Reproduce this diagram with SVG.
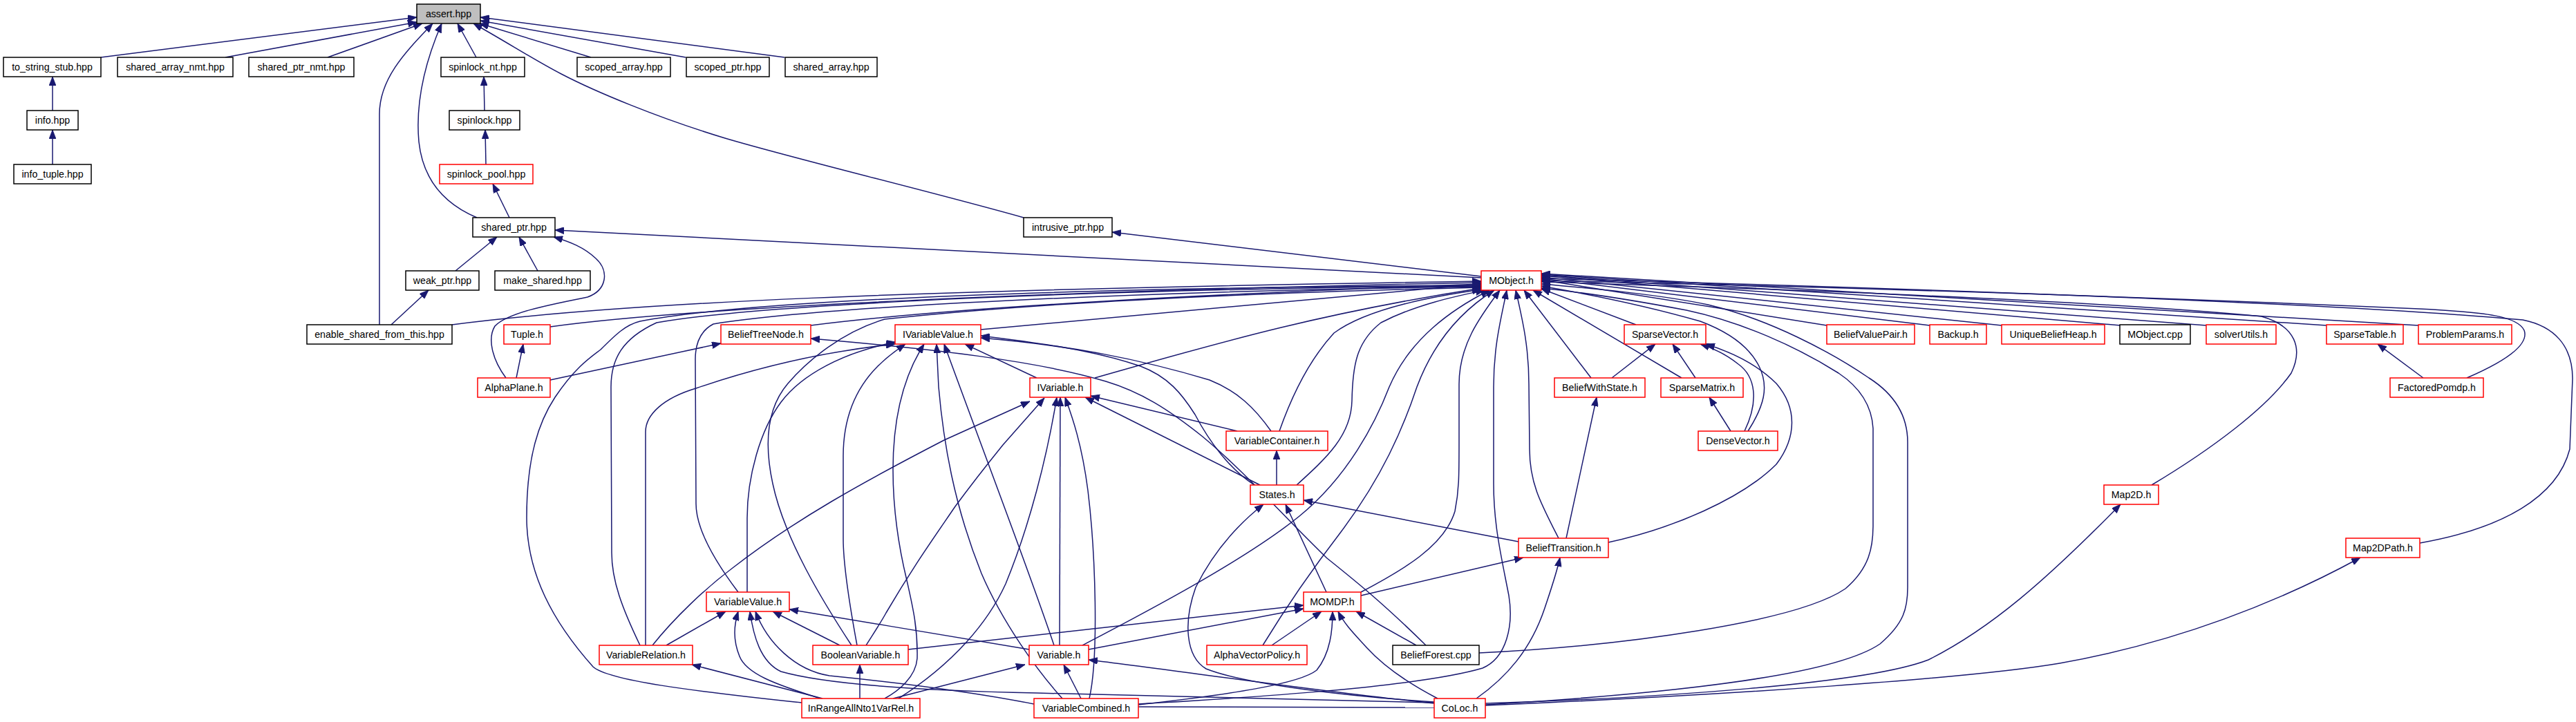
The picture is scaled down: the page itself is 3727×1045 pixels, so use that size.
<svg xmlns="http://www.w3.org/2000/svg" width="3727" height="1045" viewBox="0 0 3727 1045">
<style>
.bg{fill:#ffffff}
.e path{fill:none;stroke:#191970;stroke-width:1.5;marker-end:url(#ah)}
.e path.p{marker-end:none}
.n rect{fill:#ffffff;stroke:#000000;stroke-width:1.5}
.r rect{stroke:#ff0000}
.g rect{fill:#bfbfbf}
.n text{font-family:"Liberation Sans",Arial,sans-serif;font-size:14.2px;fill:#000000;text-anchor:middle}
</style>
<defs>
<marker id="ah" viewBox="0 0 13 10" refX="13" refY="5" markerWidth="13" markerHeight="10" markerUnits="userSpaceOnUse" orient="auto">
<path d="M0,0 L13,5 L0,10 z" fill="#191970" stroke="#191970" stroke-width="0.8"/>
</marker>
</defs>
<rect class="bg" x="0" y="0" width="3727" height="1045"/>
<g id="connectors" class="e">
<path d="M146,83 L603,25"/>
<path d="M326,83 L603,32"/>
<path d="M474,83 L611,34"/>
<path d="M549,470 L549,165 C549,112 590,72 626,34"/>
<path d="M690,315 C645,296 612,262 606,205 C601,150 614,92 639,34"/>
<path d="M689,83 L662,34"/>
<path d="M855,83 L694,34"/>
<path d="M992,83 L695,30"/>
<path d="M1135,83 L695,25"/>
<path d="M1481,315 C1350,278 1150,230 1049,200 C950,170 860,132 812,107 C775,88 735,62 685,34"/>
<path d="M76,160 L76,111"/>
<path d="M76,238 L76,188"/>
<path d="M701,160 L700,111"/>
<path d="M703,238 L702,188"/>
<path d="M737,315 L713,266"/>
<path d="M659,392 L719,343"/>
<path d="M778,392 L751,343"/>
<path d="M566,470 L620,420"/>
<path d="M732,547 C712,520 705,490 716,472 C735,452 800,440 850,430 C878,420 882,392 862,374 C845,358 825,350 801,343"/>
<path d="M2143,402 L803,333"/>
<path d="M2143,400 L1609,336"/>
<path d="M654,470 C900,438 1300,420 2143,407"/>
<path d="M796,473 C1000,445 1500,422 2143,409"/>
<path d="M1173,471 C1400,442 1800,424 2143,411"/>
<path d="M1160,1017 C1000,1000 880,985 858,965 C800,900 762,830 762,749 C762,660 780,610 803,575 C830,535 850,520 869,506 C890,485 905,470 926,465 C1100,432 1600,416 2143,413"/>
<path d="M926,934 C900,880 885,840 885,800 L884,560 C884,520 900,490 950,467 C1100,440 1600,418 2143,414"/>
<path d="M1068,857 C1040,820 1007,770 1007,729 L1006,520 C1006,495 1015,478 1032,469 C1200,442 1700,420 2143,415"/>
<path d="M1232,934 C1190,870 1135,780 1118,700 C1105,640 1110,590 1140,555 C1170,520 1220,480 1280,462 C1500,438 1800,424 2143,416"/>
<path d="M1419,477 L2143,411"/>
<path d="M1584,547 C1750,500 1900,455 2143,417"/>
<path d="M1851,624 C1870,570 1895,520 1930,482 C1980,445 2080,428 2143,419"/>
<path d="M1876,702 C1920,662 1955,630 1956,580 C1957,530 1962,495 1998,467 C2050,440 2110,428 2148,420"/>
<path d="M1566,934 C1650,890 1800,812 1880,747 C1950,690 1990,612 2010,560 C2040,490 2100,448 2155,420"/>
<path d="M1827,934 C1860,880 1900,822 1940,770 C2000,690 2030,620 2050,560 C2080,480 2130,440 2162,420"/>
<path d="M1969,857 C2030,825 2090,790 2105,740 C2111,710 2111,690 2111,640 L2111,556 C2111,500 2140,460 2170,420"/>
<path d="M1647,1019 C1800,1010 2050,995 2145,967 C2180,952 2190,905 2183,862 C2172,805 2161,760 2161,700 L2161,560 C2161,500 2172,460 2180,420"/>
<path d="M2255,779 C2230,730 2213,700 2213,650 L2212,556 C2212,500 2202,460 2193,420"/>
<path d="M2302,547 L2205,420"/>
<path d="M2433,547 L2218,420"/>
<path d="M2367,470 L2230,418"/>
<path d="M2643,471 L2230,405"/>
<path d="M2792,471 L2230,403"/>
<path d="M2896,471 L2230,401"/>
<path d="M3068,471 L2230,399"/>
<path d="M3192,471 L2230,398"/>
<path d="M3366,471 L2230,397"/>
<path d="M3499,471 L2230,396"/>
<path d="M3569,547 C3620,525 3660,500 3652,478 C3642,458 3600,452 3500,447 C3000,425 2500,412 2230,406"/>
<path d="M3113,702 C3200,650 3280,590 3315,540 C3332,505 3322,472 3272,458 C3000,432 2500,416 2230,408"/>
<path d="M3501,786 C3620,765 3700,720 3718,650 L3722,548 C3722,500 3695,472 3650,463 C3400,440 2800,418 2230,403"/>
<path d="M2529,624 C2552,588 2560,560 2545,530 C2530,500 2500,480 2460,465 C2380,442 2300,426 2230,414"/>
<path d="M2140,945 C2350,935 2600,900 2670,852 C2705,822 2710,792 2710,760 L2710,620 C2708,585 2690,560 2660,540 C2600,502 2520,466 2440,449 C2350,432 2280,422 2230,417"/>
<path d="M2149,1020 C2400,1005 2650,980 2720,932 C2755,902 2760,880 2760,850 L2760,640 C2760,600 2740,570 2704,547 C2650,510 2560,462 2471,441 C2400,426 2300,417 2230,411"/>
<path d="M747,547 L757,498"/>
<path d="M796,550 L1043,497"/>
<path d="M2063,934 C2000,872 1960,840 1920,808 C1850,740 1800,682 1740,632 C1690,592 1650,567 1600,552 C1500,522 1350,505 1173,490"/>
<path d="M2049,934 L1962,885"/>
<path d="M1840,934 L1912,885"/>
<path d="M2080,1011 C2030,985 2000,962 1978,938 C1962,920 1946,905 1936,885"/>
<path d="M1647,1020 C1780,1005 1880,990 1905,970 C1925,945 1928,912 1928,885"/>
<path d="M1314,940 C1500,920 1700,896 1886,876"/>
<path d="M1575,940 L1886,881"/>
<path d="M1969,862 L2204,807"/>
<path d="M1919,857 L1860,730"/>
<path d="M2136,1011 C2180,980 2215,940 2235,880 C2245,850 2252,830 2257,807"/>
<path d="M2266,779 L2310,575"/>
<path d="M2197,784 L1886,724"/>
<path d="M2327,785 C2420,765 2520,722 2570,672 C2600,632 2600,590 2570,555 C2540,525 2500,508 2468,498"/>
<path d="M2332,547 L2395,498"/>
<path d="M2453,547 L2420,498"/>
<path d="M2504,624 L2473,575"/>
<path d="M2524,624 C2545,580 2540,545 2515,527 C2500,515 2482,505 2460,498"/>
<path d="M3506,547 L3440,498"/>
<path d="M2149,1018 C2400,1010 2700,990 2790,955 C2880,910 2960,840 3068,730"/>
<path d="M2149,1021 C2500,1006 2850,982 2980,960 C3150,930 3300,870 3415,807"/>
<path d="M1533,934 L1534,575"/>
<path d="M1525,934 C1490,830 1440,700 1366,498"/>
<path d="M1489,940 C1400,925 1250,900 1142,882"/>
<path d="M1564,1011 L1539,962"/>
<path d="M1576,1011 C1590,950 1585,800 1574,710 C1565,640 1550,600 1541,575"/>
<path d="M1537,1011 C1500,970 1450,900 1420,830 C1380,730 1365,640 1358,560 L1355,498"/>
<path d="M1496,1019 C1400,1000 1300,988 1200,978 C1150,970 1110,930 1093,885"/>
<path d="M2075,1017 C1800,1010 1600,1005 1500,1003 C1350,1000 1200,992 1130,972 C1100,958 1090,920 1085,885"/>
<path d="M1187,1011 C1120,990 1080,975 1070,950 C1060,925 1062,905 1068,885"/>
<path d="M1190,1011 L1001,962"/>
<path d="M1244,1011 L1244,962"/>
<path d="M1292,1011 L1483,962"/>
<path d="M1300,1011 C1380,960 1430,900 1455,845 C1490,760 1515,660 1529,575"/>
<path d="M1280,1011 C1300,1000 1325,980 1327,953 C1328,910 1321,880 1312,840 C1295,770 1292,720 1292,680 C1292,600 1310,540 1337,498"/>
<path d="M964,934 L1050,885"/>
<path d="M944,934 C975,895 1020,852 1060,822 C1150,752 1250,697 1366,637 L1490,581"/>
<path d="M934,934 L934,625 C934,600 960,576 1007,562 C1100,530 1200,508 1295,498"/>
<path d="M1081,857 L1081,750 C1081,690 1100,622 1130,582 C1160,542 1220,510 1296,495"/>
<path d="M1215,934 L1118,885"/>
<path d="M1240,934 C1230,880 1220,820 1220,780 L1220,660 C1220,600 1240,560 1270,530 C1285,515 1298,506 1310,498"/>
<path d="M1253,934 C1265,915 1275,900 1282,887 C1320,822 1350,780 1382,733 C1410,695 1430,670 1451,644 L1511,576"/>
<path d="M1500,547 L1396,498"/>
<path d="M1790,624 L1578,573"/>
<path d="M1839,624 C1815,590 1790,566 1750,550 C1650,520 1550,500 1419,489"/>
<path d="M1823,702 L1570,575"/>
<path d="M1815,702 C1780,680 1750,640 1729,600 C1710,570 1690,545 1650,530 C1580,506 1500,496 1419,486"/>
<path d="M1847,702 L1847,652"/>
<path d="M2075,1016 C1950,1008 1800,990 1745,968 C1715,950 1712,900 1730,850 C1760,790 1800,752 1828,730"/>
<path d="M2075,1018 C1900,1000 1700,970 1575,955"/>
<path class="p" d="M1647,1023 L2075,1024"/>
</g>
<g id="assert_hpp" class="n g"><rect x="603" y="6" width="92" height="28"/><text x="649" y="25">assert.hpp</text></g>
<g id="to_string_stub_hpp" class="n"><rect x="5" y="83" width="141" height="28"/><text x="75.5" y="102">to_string_stub.hpp</text></g>
<g id="shared_array_nmt_hpp" class="n"><rect x="170" y="83" width="167" height="28"/><text x="253.5" y="102">shared_array_nmt.hpp</text></g>
<g id="shared_ptr_nmt_hpp" class="n"><rect x="360" y="83" width="152" height="28"/><text x="436" y="102">shared_ptr_nmt.hpp</text></g>
<g id="spinlock_nt_hpp" class="n"><rect x="638" y="83" width="121" height="28"/><text x="698.5" y="102">spinlock_nt.hpp</text></g>
<g id="scoped_array_hpp" class="n"><rect x="835" y="83" width="135" height="28"/><text x="902.5" y="102">scoped_array.hpp</text></g>
<g id="scoped_ptr_hpp" class="n"><rect x="993" y="83" width="120" height="28"/><text x="1053" y="102">scoped_ptr.hpp</text></g>
<g id="shared_array_hpp" class="n"><rect x="1136" y="83" width="133" height="28"/><text x="1202.5" y="102">shared_array.hpp</text></g>
<g id="info_hpp" class="n"><rect x="39" y="160" width="74" height="28"/><text x="76" y="179">info.hpp</text></g>
<g id="spinlock_hpp" class="n"><rect x="650" y="160" width="102" height="28"/><text x="701" y="179">spinlock.hpp</text></g>
<g id="info_tuple_hpp" class="n"><rect x="20" y="238" width="112" height="28"/><text x="76" y="257">info_tuple.hpp</text></g>
<g id="spinlock_pool_hpp" class="n r"><rect x="636" y="238" width="135" height="28"/><text x="703.5" y="257">spinlock_pool.hpp</text></g>
<g id="shared_ptr_hpp" class="n"><rect x="684" y="315" width="119" height="28"/><text x="743.5" y="334">shared_ptr.hpp</text></g>
<g id="intrusive_ptr_hpp" class="n"><rect x="1481" y="315" width="128" height="28"/><text x="1545" y="334">intrusive_ptr.hpp</text></g>
<g id="weak_ptr_hpp" class="n"><rect x="587" y="392" width="106" height="28"/><text x="640" y="411">weak_ptr.hpp</text></g>
<g id="make_shared_hpp" class="n"><rect x="716" y="392" width="138" height="28"/><text x="785" y="411">make_shared.hpp</text></g>
<g id="MObject_h" class="n r"><rect x="2143" y="392" width="87" height="28"/><text x="2186.5" y="411">MObject.h</text></g>
<g id="enable_shared_from_this_hpp" class="n"><rect x="444" y="470" width="210" height="28"/><text x="549" y="489">enable_shared_from_this.hpp</text></g>
<g id="Tuple_h" class="n r"><rect x="729" y="470" width="67" height="28"/><text x="762.5" y="489">Tuple.h</text></g>
<g id="BeliefTreeNode_h" class="n r"><rect x="1043" y="470" width="130" height="28"/><text x="1108" y="489">BeliefTreeNode.h</text></g>
<g id="IVariableValue_h" class="n r"><rect x="1295" y="470" width="124" height="28"/><text x="1357" y="489">IVariableValue.h</text></g>
<g id="SparseVector_h" class="n r"><rect x="2350" y="470" width="118" height="28"/><text x="2409" y="489">SparseVector.h</text></g>
<g id="BeliefValuePair_h" class="n r"><rect x="2643" y="470" width="127" height="28"/><text x="2706.5" y="489">BeliefValuePair.h</text></g>
<g id="Backup_h" class="n r"><rect x="2792" y="470" width="82" height="28"/><text x="2833" y="489">Backup.h</text></g>
<g id="UniqueBeliefHeap_h" class="n r"><rect x="2896" y="470" width="149" height="28"/><text x="2970.5" y="489">UniqueBeliefHeap.h</text></g>
<g id="MObject_cpp" class="n"><rect x="3067" y="470" width="102" height="28"/><text x="3118" y="489">MObject.cpp</text></g>
<g id="solverUtils_h" class="n r"><rect x="3192" y="470" width="101" height="28"/><text x="3242.5" y="489">solverUtils.h</text></g>
<g id="SparseTable_h" class="n r"><rect x="3366" y="470" width="111" height="28"/><text x="3421.5" y="489">SparseTable.h</text></g>
<g id="ProblemParams_h" class="n r"><rect x="3499" y="470" width="135" height="28"/><text x="3566.5" y="489">ProblemParams.h</text></g>
<g id="AlphaPlane_h" class="n r"><rect x="691" y="547" width="105" height="28"/><text x="743.5" y="566">AlphaPlane.h</text></g>
<g id="IVariable_h" class="n r"><rect x="1490" y="547" width="88" height="28"/><text x="1534" y="566">IVariable.h</text></g>
<g id="BeliefWithState_h" class="n r"><rect x="2249" y="547" width="131" height="28"/><text x="2314.5" y="566">BeliefWithState.h</text></g>
<g id="SparseMatrix_h" class="n r"><rect x="2403" y="547" width="119" height="28"/><text x="2462.5" y="566">SparseMatrix.h</text></g>
<g id="FactoredPomdp_h" class="n r"><rect x="3458" y="547" width="135" height="28"/><text x="3525.5" y="566">FactoredPomdp.h</text></g>
<g id="VariableContainer_h" class="n r"><rect x="1774" y="624" width="147" height="28"/><text x="1847.5" y="643">VariableContainer.h</text></g>
<g id="DenseVector_h" class="n r"><rect x="2457" y="624" width="115" height="28"/><text x="2514.5" y="643">DenseVector.h</text></g>
<g id="States_h" class="n r"><rect x="1809" y="702" width="77" height="28"/><text x="1847.5" y="721">States.h</text></g>
<g id="Map2D_h" class="n r"><rect x="3044" y="702" width="79" height="28"/><text x="3083.5" y="721">Map2D.h</text></g>
<g id="BeliefTransition_h" class="n r"><rect x="2197" y="779" width="130" height="28"/><text x="2262" y="798">BeliefTransition.h</text></g>
<g id="Map2DPath_h" class="n r"><rect x="3394" y="779" width="107" height="28"/><text x="3447.5" y="798">Map2DPath.h</text></g>
<g id="VariableValue_h" class="n r"><rect x="1022" y="857" width="120" height="28"/><text x="1082" y="876">VariableValue.h</text></g>
<g id="MOMDP_h" class="n r"><rect x="1886" y="857" width="83" height="28"/><text x="1927.5" y="876">MOMDP.h</text></g>
<g id="VariableRelation_h" class="n r"><rect x="867" y="934" width="135" height="28"/><text x="934.5" y="953">VariableRelation.h</text></g>
<g id="BooleanVariable_h" class="n r"><rect x="1176" y="934" width="138" height="28"/><text x="1245" y="953">BooleanVariable.h</text></g>
<g id="Variable_h" class="n r"><rect x="1489" y="934" width="86" height="28"/><text x="1532" y="953">Variable.h</text></g>
<g id="AlphaVectorPolicy_h" class="n r"><rect x="1746" y="934" width="145" height="28"/><text x="1818.5" y="953">AlphaVectorPolicy.h</text></g>
<g id="BeliefForest_cpp" class="n"><rect x="2015" y="934" width="125" height="28"/><text x="2077.5" y="953">BeliefForest.cpp</text></g>
<g id="InRangeAllNto1VarRel_h" class="n r"><rect x="1160" y="1011" width="171" height="28"/><text x="1245.5" y="1030">InRangeAllNto1VarRel.h</text></g>
<g id="VariableCombined_h" class="n r"><rect x="1496" y="1011" width="151" height="28"/><text x="1571.5" y="1030">VariableCombined.h</text></g>
<g id="CoLoc_h" class="n r"><rect x="2075" y="1011" width="74" height="28"/><text x="2112" y="1030">CoLoc.h</text></g>
</svg>
